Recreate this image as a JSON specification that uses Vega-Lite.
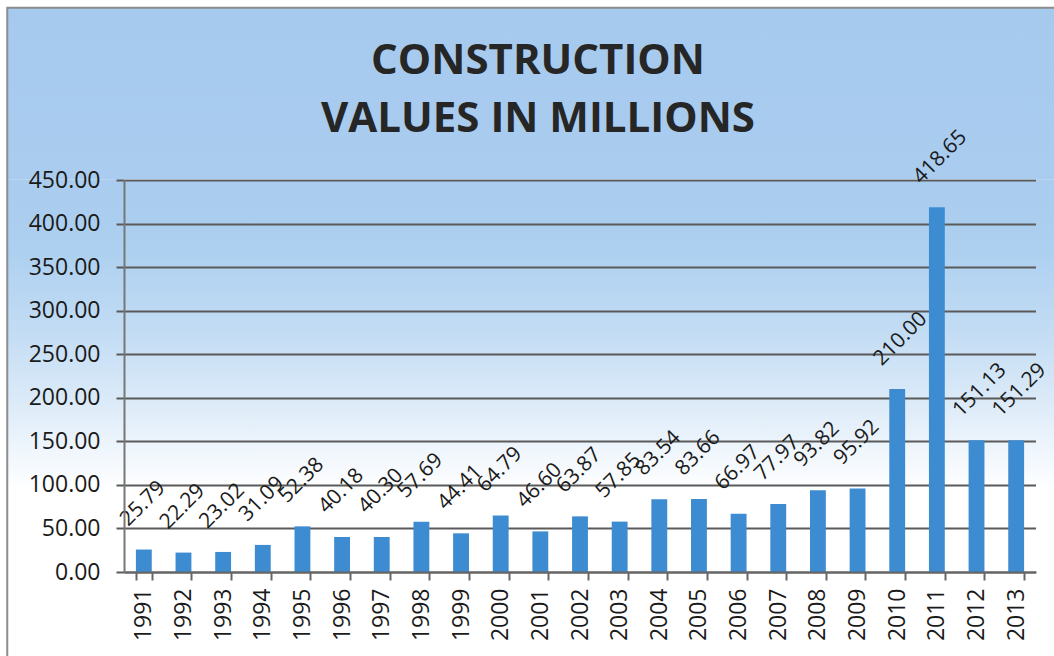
{
  "$schema": "https://vega.github.io/schema/vega-lite/v6.json",
  "width": 912,
  "height": 392,
  "autosize": {"type": "none"},
  "padding": {"left": 124, "top": 180, "right": 18, "bottom": 84},
  "background": "#ffffff",
  "title": {
    "text": ["CONSTRUCTION", "VALUES IN MILLIONS"],
    "font": "Open Sans",
    "fontSize": 42,
    "fontWeight": "bold",
    "color": "#262626",
    "lineHeight": 58,
    "anchor": "middle",
    "frame": "group",
    "dx": -42,
    "offset": -134
  },
  "config": {
    "view": {
      "stroke": null,
      "fill": {
        "gradient": "linear",
        "x1": 0, "y1": 0, "x2": 0, "y2": 1,
        "stops": [
          {"offset": 0, "color": "#a9ccef"},
          {"offset": 0.179, "color": "#add0f0"},
          {"offset": 0.383, "color": "#c2dcf4"},
          {"offset": 0.561, "color": "#dbeaf8"},
          {"offset": 0.714, "color": "#f3f8fd"},
          {"offset": 0.791, "color": "#ffffff"},
          {"offset": 1, "color": "#ffffff"}
        ]
      }
    }
  },
  "data": {
    "values": [
      {"year": 1991, "value": 25.79},
      {"year": 1992, "value": 22.29},
      {"year": 1993, "value": 23.02},
      {"year": 1994, "value": 31.09},
      {"year": 1995, "value": 52.38},
      {"year": 1996, "value": 40.18},
      {"year": 1997, "value": 40.30},
      {"year": 1998, "value": 57.69},
      {"year": 1999, "value": 44.41},
      {"year": 2000, "value": 64.79},
      {"year": 2001, "value": 46.60},
      {"year": 2002, "value": 63.87},
      {"year": 2003, "value": 57.85},
      {"year": 2004, "value": 83.54},
      {"year": 2005, "value": 83.66},
      {"year": 2006, "value": 66.97},
      {"year": 2007, "value": 77.97},
      {"year": 2008, "value": 93.82},
      {"year": 2009, "value": 95.92},
      {"year": 2010, "value": 210.00},
      {"year": 2011, "value": 418.65},
      {"year": 2012, "value": 151.13},
      {"year": 2013, "value": 151.29}
    ]
  },
  "layer": [
    {
      "transform": [{"aggregate": [{"op": "count", "as": "n"}]}],
      "encoding": {
        "x": {"type": "quantitative", "scale": {"domain": [0, 1]}, "axis": null},
        "y": {
          "type": "quantitative",
          "scale": {"domain": [0, 450], "nice": false},
          "axis": {
            "orient": "left",
            "title": null,
            "values": [0, 50, 100, 150, 200, 250, 300, 350, 400, 450],
            "grid": true,
            "gridColor": "#5a5a5a",
            "gridWidth": 2,
            "labels": false,
            "ticks": false,
            "domain": false,
            "zindex": 0
          }
        }
      },
      "layer": [
        {
          "mark": {
            "type": "rect",
            "clip": false,
            "fill": {
              "gradient": "linear",
              "x1": 0, "y1": 0, "x2": 0, "y2": 1,
              "stops": [
                {"offset": 0, "color": "#a6caee"},
                {"offset": 1, "color": "#a9ccef"}
              ]
            }
          },
          "encoding": {
            "x": {"datum": -0.128},
            "x2": {"datum": 1.06},
            "y": {"datum": 647.6},
            "y2": {"datum": 451}
          }
        },
        {
          "mark": {
            "type": "rect",
            "clip": false,
            "fill": {
              "gradient": "linear",
              "x1": 0, "y1": 0, "x2": 0, "y2": 1,
              "stops": [
                {"offset": 0, "color": "#a9ccef"},
                {"offset": 0.145, "color": "#add0f0"},
                {"offset": 0.308, "color": "#c2dcf4"},
                {"offset": 0.45, "color": "#dbeaf8"},
                {"offset": 0.572, "color": "#f3f8fd"},
                {"offset": 0.633, "color": "#ffffff"},
                {"offset": 1, "color": "#ffffff"}
              ]
            }
          },
          "encoding": {
            "x": {"datum": -0.128},
            "x2": {"datum": 0},
            "y": {"datum": 451},
            "y2": {"datum": -112.5}
          }
        },
        {
          "mark": {
            "type": "rect",
            "clip": false,
            "fill": {
              "gradient": "linear",
              "x1": 0, "y1": 0, "x2": 0, "y2": 1,
              "stops": [
                {"offset": 0, "color": "#a9ccef"},
                {"offset": 0.145, "color": "#add0f0"},
                {"offset": 0.308, "color": "#c2dcf4"},
                {"offset": 0.45, "color": "#dbeaf8"},
                {"offset": 0.572, "color": "#f3f8fd"},
                {"offset": 0.633, "color": "#ffffff"},
                {"offset": 1, "color": "#ffffff"}
              ]
            }
          },
          "encoding": {
            "x": {"datum": 1},
            "x2": {"datum": 1.06},
            "y": {"datum": 451},
            "y2": {"datum": -112.5}
          }
        },
        {
          "mark": {
            "type": "rect",
            "clip": false,
            "fill": "transparent",
            "stroke": "#8c8c8c",
            "strokeWidth": 2
          },
          "encoding": {
            "x": {"datum": -0.128},
            "x2": {"datum": 1.1},
            "y": {"datum": 647.6},
            "y2": {"datum": -200}
          }
        }
      ]
    },
    {
      "encoding": {
        "x": {
          "field": "year",
          "type": "ordinal",
          "scale": {"paddingInner": 0.6, "paddingOuter": 0.3},
          "axis": {
            "orient": "bottom",
            "title": null,
            "labelAngle": -90,
            "labelFont": "Open Sans",
            "labelFontSize": 23,
            "labelColor": "#1a1a1a",
            "labelPadding": 8,
            "tickBand": "extent",
            "tickSize": 8,
            "tickColor": "#666666",
            "tickWidth": 2,
            "domainColor": "#666666",
            "domainWidth": 2,
            "grid": false,
            "zindex": 1
          }
        },
        "y": {
          "field": "value",
          "type": "quantitative",
          "scale": {"domain": [0, 450], "nice": false},
          "axis": {
            "orient": "left",
            "title": null,
            "values": [0, 50, 100, 150, 200, 250, 300, 350, 400, 450],
            "format": ".2f",
            "labelFont": "Open Sans",
            "labelFontSize": 23,
            "labelColor": "#1a1a1a",
            "labelPadding": 16,
            "tickSize": 8,
            "tickColor": "#5a5a5a",
            "tickWidth": 2,
            "domainColor": "#777777",
            "domainWidth": 2,
            "grid": false,
            "zindex": 1
          }
        }
      },
      "layer": [
        {"mark": {"type": "bar", "color": "#3d8bd1"}},
        {
          "mark": {
            "type": "text",
            "angle": -45,
            "align": "left",
            "baseline": "middle",
            "dx": 5,
            "dy": -33,
            "font": "Open Sans",
            "fontSize": 21,
            "color": "#1a1a1a"
          },
          "encoding": {"text": {"field": "value", "type": "quantitative", "format": ".2f"}}
        }
      ]
    }
  ],
  "resolve": {"scale": {"x": "independent", "y": "independent"}}
}
